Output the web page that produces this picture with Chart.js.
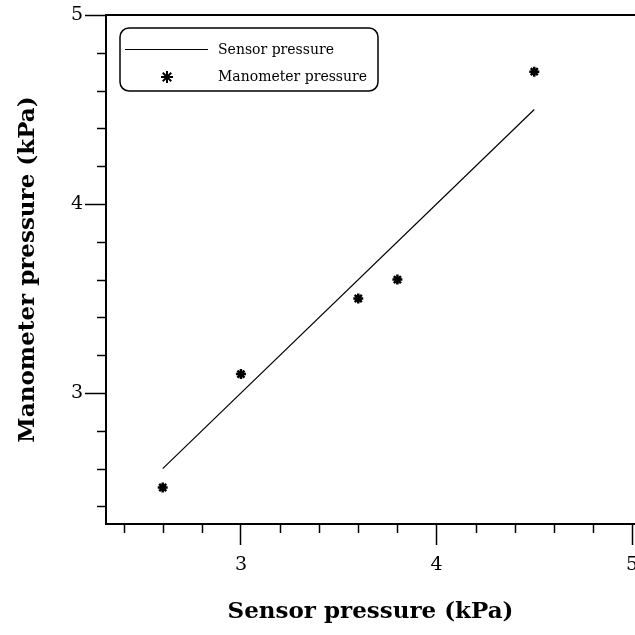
<!DOCTYPE html>
<html>
<head>
<meta charset="utf-8">
<script src="https://cdn.jsdelivr.net/npm/chart.js@4.4.1/dist/chart.umd.min.js"></script>
<style>
  html, body { margin: 0; padding: 0; background: #fff; }
  #wrap { width: 635px; height: 635px; }
</style>
</head>
<body>
<div id="wrap"><canvas id="pressureChart"></canvas></div>
<script>
// data
const sensorX = [2.6, 3.0, 3.6, 3.8, 4.5];
const manometerY = [2.5, 3.1, 3.5, 3.6, 4.7];
const fitX = [2.6, 4.5];
const fitY = [2.6, 4.5];
const majorTicks = [3, 4, 5];
const xMinorTicks = [2.4, 2.6, 2.8, 3.2, 3.4, 3.6, 3.8, 4.2, 4.4, 4.6, 4.8];
const yMinorTicks = [2.4, 2.6, 2.8, 3.2, 3.4, 3.6, 3.8, 4.2, 4.4, 4.6, 4.8];

const serif = '"DejaVu Serif", "Liberation Serif", serif';

// minor ticks, top frame line and the rounded legend box
const framePlugin = {
  id: 'frame',
  afterDraw(chart) {
    const { ctx, chartArea: a, scales } = chart;
    ctx.save();
    ctx.strokeStyle = '#000';
    ctx.lineWidth = 1.5;
    xMinorTicks.forEach(v => {
      const px = Math.round(scales.x.getPixelForValue(v)) + 0.5;
      ctx.beginPath(); ctx.moveTo(px, a.bottom); ctx.lineTo(px, a.bottom + 9); ctx.stroke();
    });
    yMinorTicks.forEach(v => {
      const py = Math.round(scales.y.getPixelForValue(v)) + 0.5;
      ctx.beginPath(); ctx.moveTo(a.left - 9, py); ctx.lineTo(a.left, py); ctx.stroke();
    });
    ctx.lineWidth = 2;
    ctx.beginPath(); ctx.moveTo(a.left, a.top); ctx.lineTo(a.right, a.top); ctx.stroke();

    // legend
    const bx = 120, by = 28, bw = 258, bh = 63, r = 9;
    ctx.lineWidth = 1.5;
    ctx.fillStyle = '#fff';
    ctx.beginPath();
    ctx.moveTo(bx + r, by);
    ctx.arcTo(bx + bw, by, bx + bw, by + bh, r);
    ctx.arcTo(bx + bw, by + bh, bx, by + bh, r);
    ctx.arcTo(bx, by + bh, bx, by, r);
    ctx.arcTo(bx, by, bx + bw, by, r);
    ctx.closePath();
    ctx.fill(); ctx.stroke();

    const ds = chart.data.datasets;
    ctx.fillStyle = '#000';
    ctx.font = '14px ' + serif;
    ctx.textBaseline = 'middle';
    ctx.lineWidth = 1;
    ctx.beginPath(); ctx.moveTo(125, 49.5); ctx.lineTo(208, 49.5); ctx.stroke();
    ctx.fillText(ds[0].label, 218, 50);
    ctx.lineWidth = 2;
    Chart.helpers.drawPoint(ctx, { pointStyle: 'star', radius: 6, rotation: 0, borderWidth: 2 }, 167, 77);
    ctx.fillText(ds[1].label, 218, 77);
    ctx.restore();
  }
};

function fixWidth(w) {
  return s => { s.width = w; s.paddingLeft = s.paddingRight = s.paddingTop = s.paddingBottom = 0; };
}
function fixHeight(h) {
  return s => { s.height = h; s.paddingLeft = s.paddingRight = s.paddingTop = s.paddingBottom = 0; };
}

const ctx = document.getElementById('pressureChart').getContext('2d');
const pressureChart = new Chart(ctx, {
  type: 'scatter',
  data: {
    datasets: [{
      type: 'line',
      label: 'Sensor pressure',
      data: fitX.map((x, i) => ({ x, y: fitY[i] })),
      borderColor: '#000',
      borderWidth: 1.2,
      pointRadius: 0,
      fill: false
    }, {
      label: 'Manometer pressure',
      data: sensorX.map((x, i) => ({ x, y: manometerY[i] })),
      pointStyle: 'star',
      pointRadius: 5,
      borderColor: '#000',
      backgroundColor: '#000',
      pointBorderWidth: 2.5
    }]
  },
  options: {
    responsive: true,
    maintainAspectRatio: false,
    animation: false,
    devicePixelRatio: 1,
    layout: { autoPadding: false, padding: { top: 15, right: 0, left: 0, bottom: 0 } },
    plugins: { legend: { display: false }, tooltip: { enabled: false } },
    scales: {
      x: {
        type: 'linear',
        min: 2.31,
        max: 5.015,
        afterBuildTicks: s => { s.ticks = majorTicks.map(value => ({ value })); },
        afterFit: fixHeight(111),
        border: { color: '#000', width: 2 },
        grid: { drawOnChartArea: false, color: '#000', tickLength: 21, tickWidth: 1.5 },
        ticks: { color: '#000', font: { family: serif, size: 19 }, padding: 9, maxRotation: 0 },
        title: {
          display: true,
          text: 'Sensor pressure (kPa)',
          color: '#000',
          font: { family: serif, size: 23, weight: 'bold' },
          padding: { top: 0, bottom: 9 }
        }
      },
      y: {
        type: 'linear',
        min: 2.307,
        max: 5,
        afterBuildTicks: s => { s.ticks = majorTicks.map(value => ({ value })); },
        afterFit: fixWidth(106),
        border: { color: '#000', width: 2 },
        grid: { drawOnChartArea: false, color: '#000', tickLength: 21, tickWidth: 1.5 },
        ticks: { color: '#000', font: { family: serif, size: 19 }, padding: 2 },
        title: {
          display: true,
          text: 'Manometer pressure (kPa)',
          color: '#000',
          font: { family: serif, size: 23, weight: 'bold' },
          padding: { top: 14, bottom: 0 }
        }
      }
    }
  },
  plugins: [framePlugin]
});
</script>
</body>
</html>
